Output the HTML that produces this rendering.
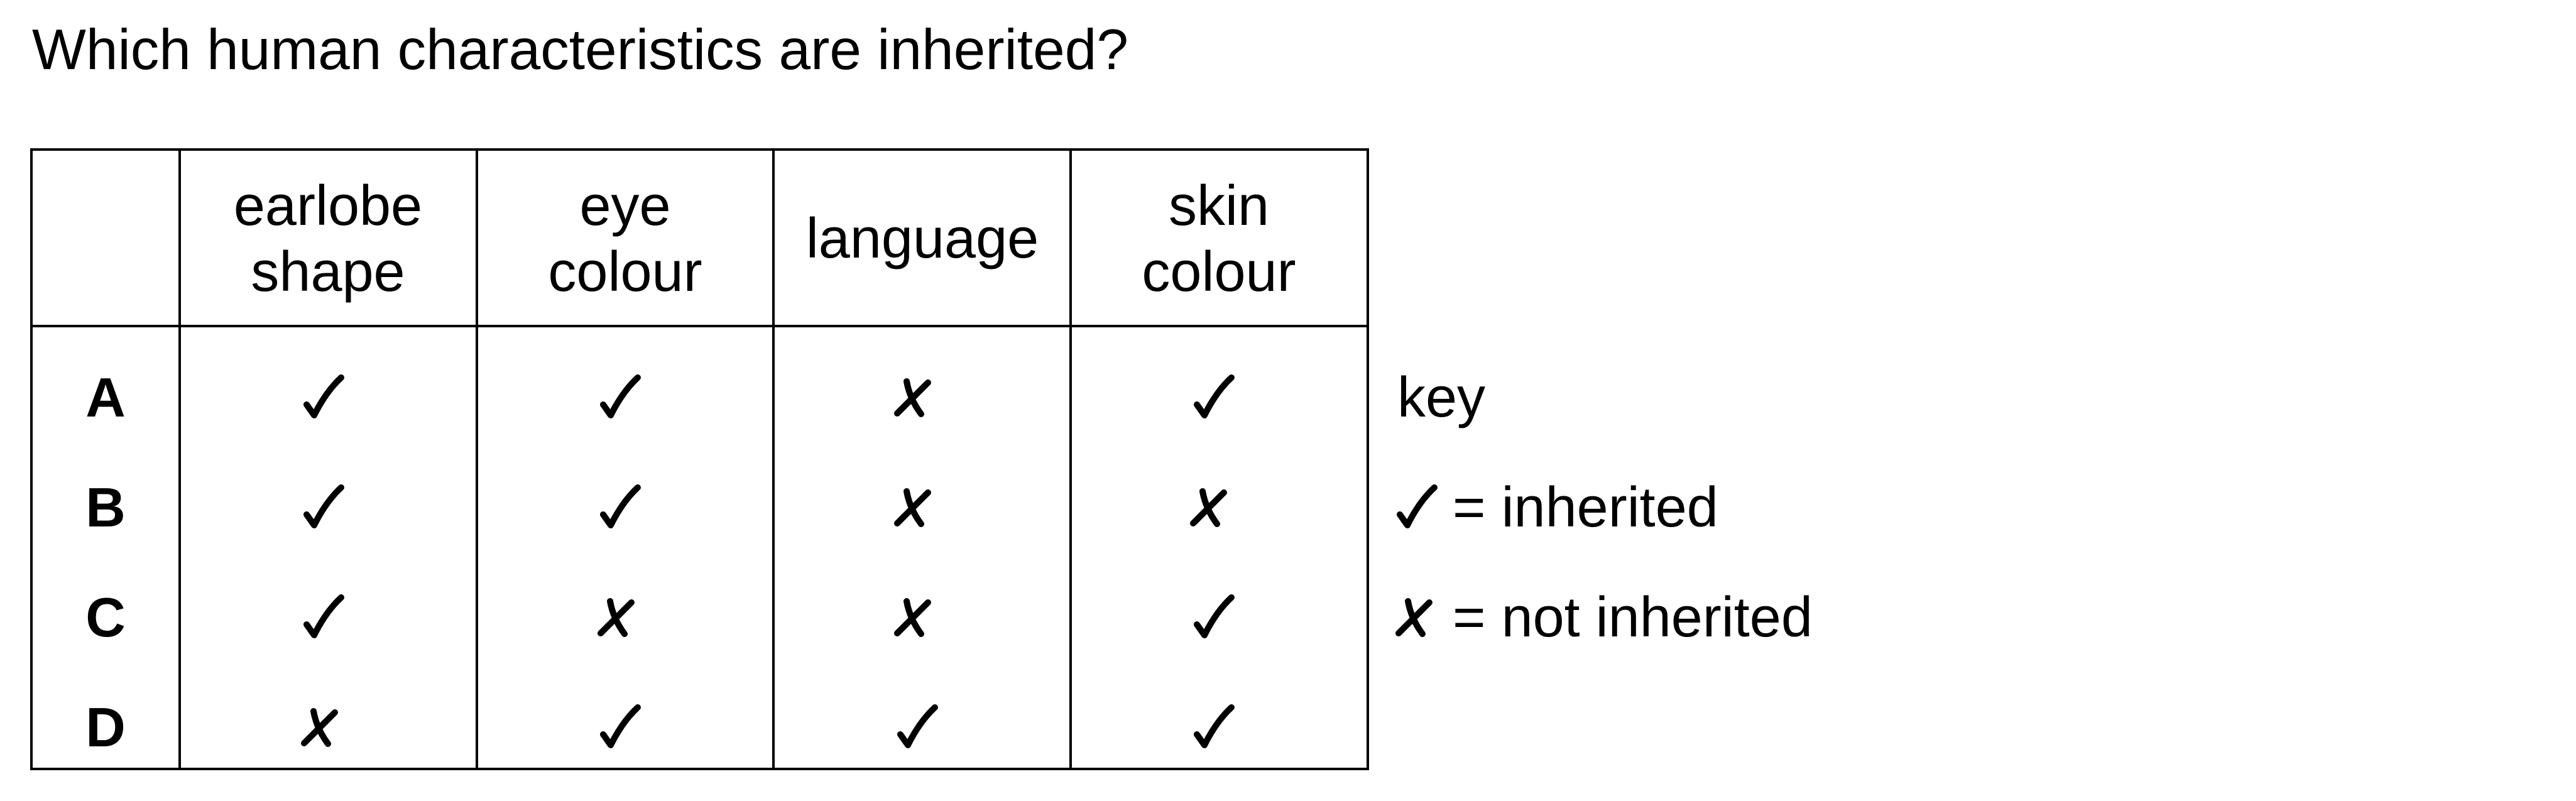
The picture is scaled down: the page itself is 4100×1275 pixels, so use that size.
<!DOCTYPE html>
<html><head><meta charset="utf-8"><style>
html,body{margin:0;padding:0;background:#fff;}
svg{display:block;}
text{font-family:"Liberation Sans",Arial,sans-serif;fill:#000;}
</style></head><body>
<svg width="4100" height="1275" viewBox="0 0 4100 1275" xmlns="http://www.w3.org/2000/svg">
<defs>
<g id="t"><path d="M-27,-19 L-15,-2 Q4,-40 28,-62" stroke="#000" stroke-width="10" fill="none" stroke-linecap="round" stroke-linejoin="round"/></g>
<g id="x"><path d="M-9,-56 Q-4,-28 14,-4 M25,-54 L-24,-5" stroke="#000" stroke-width="10" fill="none" stroke-linecap="round"/></g>
</defs>
<text x="51" y="110" font-size="91">Which human characteristics are inherited?</text>
<g stroke="#000" stroke-width="4" fill="none">
<rect x="50" y="238" width="2127" height="986"/>
<line x1="286" y1="238" x2="286" y2="1224"/>
<line x1="759" y1="238" x2="759" y2="1224"/>
<line x1="1231" y1="238" x2="1231" y2="1224"/>
<line x1="1704" y1="238" x2="1704" y2="1224"/>
<line x1="50" y1="519" x2="2177" y2="519"/>
</g>
<g font-size="90" text-anchor="middle">
<text x="522" y="358">earlobe</text><text x="522" y="463">shape</text>
<text x="995" y="358">eye</text><text x="995" y="463">colour</text>
<text x="1468" y="410">language</text>
<text x="1940" y="358">skin</text><text x="1940" y="463">colour</text>
</g>
<g font-size="88" font-weight="bold" text-anchor="middle">
<text x="168" y="663">A</text><text x="168" y="838">B</text><text x="168" y="1013">C</text><text x="168" y="1188">D</text>
</g>
<use href="#t" x="515" y="663"/><use href="#t" x="987" y="663"/><use href="#x" x="1452" y="663"/><use href="#t" x="1932" y="663"/>
<use href="#t" x="515" y="838"/><use href="#t" x="987" y="838"/><use href="#x" x="1452" y="838"/><use href="#x" x="1923" y="838"/>
<use href="#t" x="515" y="1013"/><use href="#x" x="980" y="1013"/><use href="#x" x="1452" y="1013"/><use href="#t" x="1932" y="1013"/>
<use href="#x" x="508" y="1188"/><use href="#t" x="987" y="1188"/><use href="#t" x="1460" y="1188"/><use href="#t" x="1932" y="1188"/>
<text x="2224" y="663" font-size="90">key</text>
<use href="#t" x="2255" y="838"/><text x="2312" y="838" font-size="90">= inherited</text>
<use href="#x" x="2250" y="1013"/><text x="2312" y="1013" font-size="90">= not inherited</text>
</svg>
</body></html>
